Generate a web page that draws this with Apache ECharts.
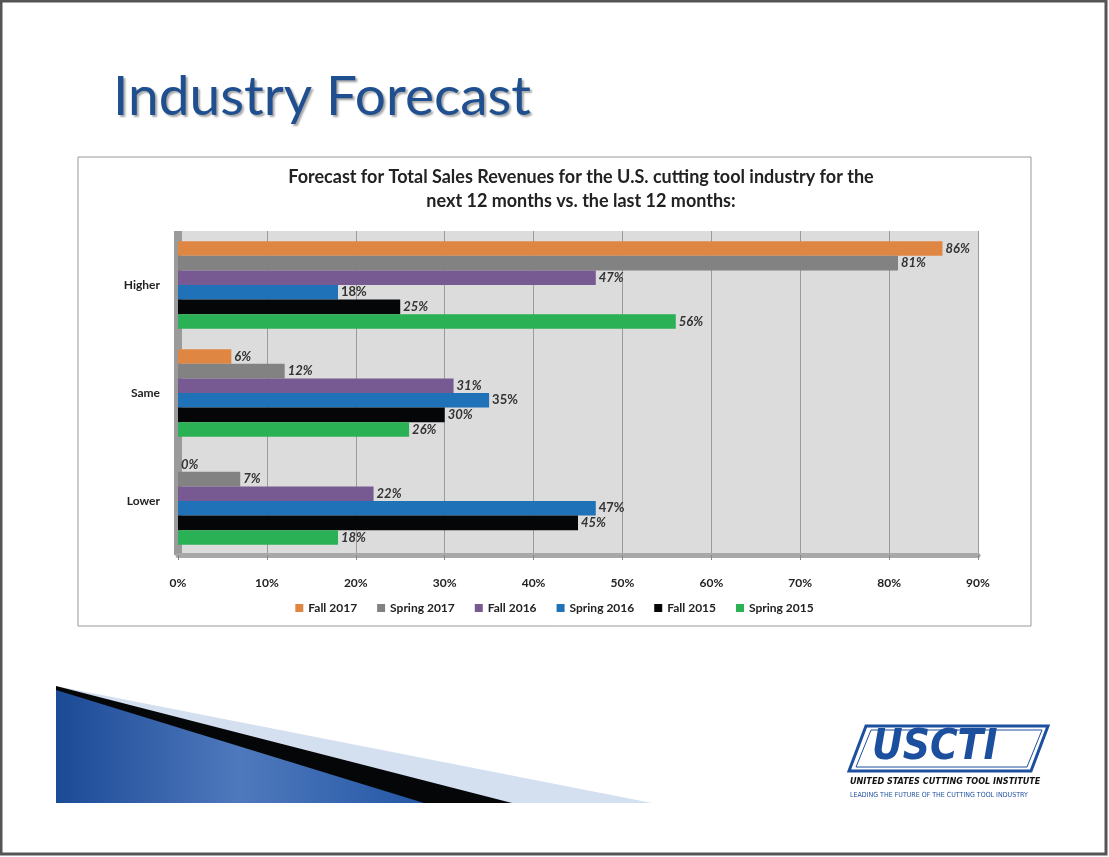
<!DOCTYPE html>
<html>
<head>
<meta charset="utf-8">
<script src="https://cdn.jsdelivr.net/npm/echarts@6/dist/echarts.min.js"></script>
<style>
  html, body { margin: 0; padding: 0; background: #fff; }
  #chart { width: 1109px; height: 857px; }
</style>
</head>
<body>
<div id="chart"></div>
<script>
  // 数据
  const categories = ['Higher', 'Same', 'Lower']
  const seriesNames = ['Fall 2017', 'Spring 2017', 'Fall 2016', 'Spring 2016', 'Fall 2015', 'Spring 2015']
  const fall2017 = [86, 6, 0]
  const spring2017 = [81, 12, 7]
  const fall2016 = [47, 31, 22]
  const spring2016 = [18, 35, 47]
  const fall2015 = [25, 30, 45]
  const spring2015 = [56, 26, 18]
  const xTicks = [0, 10, 20, 30, 40, 50, 60, 70, 80, 90]

  const values = [fall2017, spring2017, fall2016, spring2016, fall2015, spring2015]
  const colors = ['#e08643', '#828282', '#765a91', '#1f71b8', '#050608', '#2bb155']

  const chart = echarts.init(document.getElementById('chart'))

  const option = {
    backgroundColor: '#fff',
    textStyle: { fontFamily: 'Lato' },
    title: {
      text: 'Forecast for Total Sales Revenues for the U.S. cutting tool industry for the\nnext 12 months vs. the last 12 months:',
      left: 576,
      top: 160,
      textAlign: 'center',
      textStyle: { fontSize: 18, fontWeight: 'bold', color: '#222', lineHeight: 24, fontFamily: 'Lato' }
    },
    legend: {
      data: seriesNames,
      left: 'center',
      top: 597,
      itemWidth: 8,
      itemHeight: 8,
      itemGap: 20,
      icon: 'rect',
      textStyle: { fontSize: 12, fontWeight: 'bold', color: '#222' }
    },
    grid: {
      left: 178,
      right: 131,
      top: 231,
      height: 324,
      show: true,
      backgroundColor: '#dcdcdc',
      borderWidth: 0
    },
    xAxis: {
      type: 'value',
      min: xTicks[0],
      max: xTicks[xTicks.length - 1],
      interval: 10,
      axisLine: { show: true, lineStyle: { color: '#a8a8a8', width: 5 } },
      axisTick: { show: true, length: 5, lineStyle: { color: '#888' } },
      axisLabel: { formatter: '{value}%', fontSize: 12, fontWeight: 'bold', color: '#222', margin: 22 },
      splitLine: { show: true, lineStyle: { color: '#9a9a9a', width: 1 } }
    },
    yAxis: {
      type: 'category',
      data: categories,
      inverse: true,
      axisLine: { show: true, lineStyle: { color: '#9a9a9a', width: 8, cap: 'butt' } },
      axisTick: { show: false },
      axisLabel: { fontSize: 12, fontWeight: 'bold', color: '#222', margin: 18, padding: [8, 0, 0, 0] }
    },
    series: seriesNames.map((name, i) => ({
      name: name,
      type: 'bar',
      data: values[i],
      barGap: '0%',
      barCategoryGap: '19%',
      itemStyle: { color: colors[i] },
      label: {
        show: true,
        position: 'right',
        distance: 3,
        formatter: '{c}%',
        fontSize: 13,
        fontWeight: 'bold',
        fontStyle: i === 3 ? 'normal' : 'italic',
        color: '#333'
      }
    })),
    graphic: [
      // slide frame
      { type: 'rect', shape: { x: 1, y: 1, width: 1105, height: 853 }, style: { fill: 'none', stroke: '#555', lineWidth: 3 }, z: -10 },
      // chart box
      { type: 'rect', shape: { x: 78, y: 157, width: 953, height: 469 }, style: { fill: 'none', stroke: '#999', lineWidth: 1 }, z: -5 },
      // slide title
      { type: 'text', left: 113, top: 70, style: { text: 'Industry Forecast', fontSize: 55, fontFamily: 'Lato', fill: '#1f4f8f', textShadowColor: 'rgba(0,0,0,0.35)', textShadowOffsetX: 2, textShadowOffsetY: 2, textShadowBlur: 2 } },
      // bottom-left decoration
      { type: 'polygon', shape: { points: [[56, 686], [652, 803], [56, 803]] }, style: { fill: '#d4dff0' } },
      { type: 'polygon', shape: { points: [[56, 686], [512, 803], [56, 803]] }, style: { fill: '#050608' } },
      { type: 'polygon', shape: { points: [[56, 690], [424, 803], [56, 803]] }, style: { fill: new echarts.graphic.LinearGradient(0, 0, 1, 0, [{ offset: 0, color: '#1b4a96' }, { offset: 0.5, color: '#4f79bd' }, { offset: 1, color: '#2457a5' }]) } },
      // logo
      { type: 'polygon', shape: { points: [[866, 726], [1048, 726], [1031, 771], [849, 771]] }, style: { fill: '#fff', stroke: '#1d4f9f', lineWidth: 3 } },
      { type: 'polygon', shape: { points: [[871, 730], [1042, 730], [1027, 767], [856, 767]] }, style: { fill: 'none', stroke: '#1d4f9f', lineWidth: 1 } },
      { type: 'text', left: 872, top: 727, style: { text: 'USCTI', fontSize: 42, fontWeight: 'bold', fontStyle: 'italic', fontFamily: 'DejaVu Sans Condensed', fill: '#1d4f9f' } },
      { type: 'text', left: 850, top: 777, style: { text: 'UNITED STATES CUTTING TOOL INSTITUTE', fontSize: 9, fontWeight: 'bold', fontStyle: 'italic', fontFamily: 'DejaVu Sans Condensed', fill: '#111' } },
      { type: 'text', left: 850, top: 792, style: { text: 'LEADING THE FUTURE OF THE CUTTING TOOL INDUSTRY', fontSize: 7, fontFamily: 'DejaVu Sans Condensed', fill: '#1d4f9f' } }
    ]
  }

  chart.setOption(option)
</script>
</body>
</html>
